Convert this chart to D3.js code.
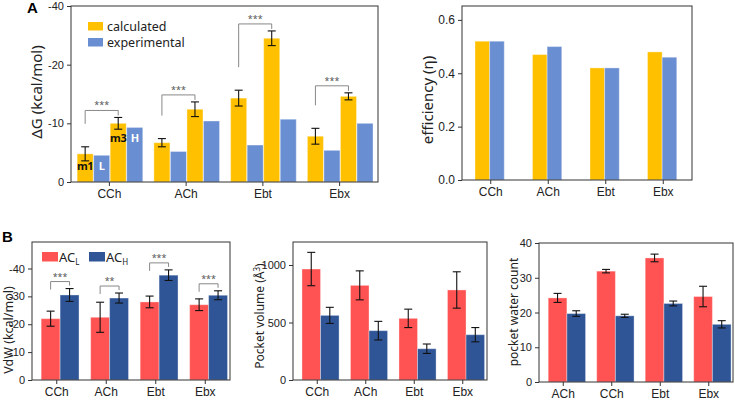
<!DOCTYPE html>
<meta charset="utf-8">
<style>
body { margin: 0; background: #fff; }
svg { font-family: "Noto Sans", "Open Sans", sans-serif; }
.frame { fill: none; stroke: #333; stroke-width: 1; }
.axis path { display: none; }
.axis line { stroke: #333; }
.axis text { fill: #222; }
.err { stroke: #111; stroke-width: 1.1; fill: none; }
.bracket { stroke: #888; stroke-width: 1; fill: none; }
.stars { fill: #555; font-size: 9px; text-anchor: middle; }
</style>
<svg width="735" height="400"></svg>
<script src="https://cdn.jsdelivr.net/npm/d3@7"></script>
<script>

// ---- panel A: binding free energy
var moleculesA = ["CCh", "ACh", "Ebt", "Ebx"];
var calcM1 = [4.8, 6.7, 14.3, 7.8];
var calcM1Err = [1.2, 0.7, 1.35, 1.35];
var expL = [4.55, 5.2, 6.3, 5.4];
var calcM3 = [10.0, 12.4, 24.5, 14.6];
var calcM3Err = [1.0, 1.25, 1.25, 0.6];
var expH = [9.3, 10.4, 10.7, 10.0];
var dgTicks = [0, 10, 20, 30];
var dgTickLabels = ["0", "-10", "-20", "-40"];

// ---- panel A: efficiency
var effCalc = [0.52, 0.47, 0.42, 0.48];
var effExp = [0.52, 0.50, 0.42, 0.46];
var effTicks = [0, 0.2, 0.4, 0.6];

// ---- panel B
var moleculesB = ["CCh", "ACh", "Ebt", "Ebx"];
var vdwL = [22.0, 22.5, 28.0, 27.0];
var vdwLErr = [2.7, 5.4, 2.1, 2.1];
var vdwH = [30.5, 29.4, 37.6, 30.4];
var vdwHErr = [2.3, 1.8, 1.9, 1.6];
var vdwStars = ["***", "**", "***", "***"];
var vdwTicks = [0, 10, 20, 30, 40];

var volL = [965, 823, 536, 783];
var volLErr = [145, 126, 80, 158];
var volH = [562, 429, 272, 394];
var volHErr = [70, 81, 41, 62];
var volTicks = [0, 500, 1000];

var waterMolecules = ["ACh", "CCh", "Ebt", "Ebx"];
var waterL = [24.2, 31.9, 35.7, 24.6];
var waterLErr = [1.3, 0.5, 1.1, 2.95];
var waterH = [19.7, 19.05, 22.6, 16.6];
var waterHErr = [0.8, 0.45, 0.7, 1.05];
var waterTicks = [0, 10, 20, 30, 40];

var colors = { calc: "#FFC000", exp: "#6A8ED2", L: "#FF5252", H: "#2F5597" };

var svg = d3.select("svg");

function panel(o) {
  var g = svg.append("g");
  var x = d3.scaleBand().domain(o.cats).range([o.x0, o.x1]);
  var bw = x.bandwidth();
  var inner = d3.scaleBand().domain(o.keys)
      .range([o.inner[0] * bw, o.inner[1] * bw])
      .paddingInner(o.innerPad || 0);
  var y = d3.scaleLinear().domain(o.domain).range([o.y1, o.y0]);

  var rows = [];
  o.cats.forEach(function(c, i) {
    o.keys.forEach(function(k, j) {
      var s = o.series[j];
      rows.push({ cat: c, key: k, v: s.values[i], err: s.err ? s.err[i] : null, color: s.color });
    });
  });

  g.selectAll("rect.bar").data(rows).enter().append("rect")
      .attr("class", "bar")
      .attr("x", function(d) { return x(d.cat) + inner(d.key); })
      .attr("width", inner.bandwidth())
      .attr("y", function(d) { return y(d.v); })
      .attr("height", function(d) { return y(0) - y(d.v); })
      .attr("fill", function(d) { return d.color; })
      .attr("stroke", "#fff")
      .attr("stroke-opacity", 0.35)
      .attr("stroke-width", 1);

  var errs = rows.filter(function(d) { return d.err != null; });
  var eg = g.selectAll("g.e").data(errs).enter().append("g").attr("class", "err");
  var cx = function(d) { return x(d.cat) + inner(d.key) + inner.bandwidth() / 2; };
  eg.append("line")
      .attr("x1", cx).attr("x2", cx)
      .attr("y1", function(d) { return y(d.v - d.err); })
      .attr("y2", function(d) { return y(d.v + d.err); });
  [1, -1].forEach(function(sg) {
    eg.append("line")
        .attr("x1", function(d) { return cx(d) - 4; })
        .attr("x2", function(d) { return cx(d) + 4; })
        .attr("y1", function(d) { return y(d.v + sg * d.err); })
        .attr("y2", function(d) { return y(d.v + sg * d.err); });
  });

  // axes
  g.append("g").attr("class", "axis")
      .attr("transform", "translate(" + o.x0 + ",0)")
      .call(d3.axisLeft(y).tickValues(o.ticks).tickFormat(o.fmt).tickSize(4).tickPadding(3))
      .selectAll("text").style("font-size", o.tickFont + "px");
  g.append("g").attr("class", "axis")
      .attr("transform", "translate(0," + o.y1 + ")")
      .call(d3.axisBottom(x).tickSize(4).tickPadding(3))
      .selectAll("text").style("font-size", "12px");

  g.append("rect").attr("class", "frame")
      .attr("x", o.x0).attr("y", o.y0)
      .attr("width", o.x1 - o.x0).attr("height", o.y1 - o.y0);

  if (o.label) {
    g.append("text")
        .attr("transform", "translate(" + o.labelX + "," + o.labelY + ") rotate(-90)")
        .attr("text-anchor", "middle")
        .style("font-size", o.labelFont + "px")
        .attr("fill", "#222")
        .text(o.label);
  }

  return { g: g, x: x, y: y, inner: inner };
}

// ---- A left
var pA = panel({
  cats: moleculesA, keys: ["m1", "L", "m3", "H"],
  series: [
    { values: calcM1, err: calcM1Err, color: colors.calc },
    { values: expL, color: colors.exp },
    { values: calcM3, err: calcM3Err, color: colors.calc },
    { values: expH, color: colors.exp }
  ],
  x0: 71, x1: 378, y0: 6, y1: 182, domain: [0, 30],
  inner: [0.08, 0.935], innerPad: 0.03,
  ticks: dgTicks, fmt: function(d, i) { return dgTickLabels[i]; }, tickFont: 11,
  label: "ΔG (kcal/mol)", labelX: 42, labelY: 92, labelFont: 15
});

// bracket helper
function bracket(p, cat, k1, k2, top, leftEnd, rightEnd, stars) {
  var xa = p.x(cat) + p.inner(k1) + p.inner.bandwidth() / 2;
  var xb = p.x(cat) + p.inner(k2) + p.inner.bandwidth() / 2;
  p.g.append("path").attr("class", "bracket")
      .attr("d", "M" + xa + "," + leftEnd + "V" + top + "H" + xb + "V" + rightEnd);
  p.g.append("text").attr("class", "stars")
      .attr("x", (xa + xb) / 2).attr("y", top - 2).text(stars);
}

moleculesA.forEach(function(c, i) {
  var top = pA.y(calcM3[i] + calcM3Err[i]) - 7;
  var left = pA.y(calcM1[i] + calcM1Err[i]) - 23;
  bracket(pA, c, "m1", "m3", top, left, top + 5, "***");
});

// bar labels in CCh group
var labA = [["m1", "#111", 0], ["L", "#fff", 1], ["m3", "#111", 2], ["H", "#fff", 3]];
labA.forEach(function(l) {
  var lowV = l[2] < 2 ? Math.min(calcM1[0], expL[0]) : Math.min(calcM3[0], expH[0]);
  pA.g.append("text")
      .attr("x", pA.x("CCh") + pA.inner(l[0]) + pA.inner.bandwidth() / 2)
      .attr("y", pA.y(lowV) + 15)
      .attr("text-anchor", "middle")
      .style("font-size", "11px").style("font-weight", "bold")
      .style("letter-spacing", "-0.3px")
      .attr("fill", l[1]).text(l[0]);
});

// legend A
var legA = [["calculated", colors.calc], ["experimental", colors.exp]];
legA.forEach(function(d, i) {
  pA.g.append("rect").attr("x", 88).attr("y", 22 + i * 16).attr("width", 15).attr("height", 8.5).attr("fill", d[1]);
  pA.g.append("text").attr("x", 107).attr("y", 30.5 + i * 16).style("font-size", "12.5px").attr("fill", "#222").text(d[0]);
});

svg.append("text").attr("x", 27).attr("y", 13).style("font-size", "15px").style("font-weight", "bold")
    .style("font-family", "Liberation Sans, Arial").text("A");

// ---- A right: efficiency
panel({
  cats: moleculesA, keys: ["calc", "exp"],
  series: [
    { values: effCalc, color: colors.calc },
    { values: effExp, color: colors.exp }
  ],
  x0: 462, x1: 692, y0: 6, y1: 180, domain: [0, 0.652],
  inner: [0.226, 0.735],
  ticks: effTicks, fmt: d3.format(".1f"), tickFont: 12,
  label: "efficiency (η)", labelX: 433, labelY: 100, labelFont: 15
});

// ---- B1: VdW
var pB1 = panel({
  cats: moleculesB, keys: ["L", "H"],
  series: [
    { values: vdwL, err: vdwLErr, color: colors.L },
    { values: vdwH, err: vdwHErr, color: colors.H }
  ],
  x0: 32, x1: 230, y0: 242, y1: 380, domain: [0, 49.5],
  inner: [0.185, 0.95],
  ticks: vdwTicks, fmt: function(d) { return d === 0 ? "0" : "-" + d; }, tickFont: 11,
  label: "VdW (kcal/mol)", labelX: 13, labelY: 330, labelFont: 12.5
});
moleculesB.forEach(function(c, i) {
  var top = pB1.y(vdwH[i] + vdwHErr[i]) - 7;
  bracket(pB1, c, "L", "H", top, top + 8, top + 4, vdwStars[i]);
});

// legend B
var legB = [["L", colors.L, 42], ["H", colors.H, 89]];
legB.forEach(function(d) {
  pB1.g.append("rect").attr("x", d[2]).attr("y", 252).attr("width", 16).attr("height", 9.5).attr("fill", d[1]);
  var t = pB1.g.append("text").attr("x", d[2] + 17).attr("y", 262).style("font-size", "13px").attr("fill", "#222");
  t.append("tspan").text("AC");
  t.append("tspan").attr("dy", 3).style("font-size", "8px").text(d[0]);
});

svg.append("text").attr("x", 2).attr("y", 242).style("font-size", "15px").style("font-weight", "bold")
    .style("font-family", "Liberation Sans, Arial").text("B");

// ---- B2: pocket volume
var pB2 = panel({
  cats: moleculesB, keys: ["L", "H"],
  series: [
    { values: volL, err: volLErr, color: colors.L },
    { values: volH, err: volHErr, color: colors.H }
  ],
  x0: 293, x1: 487, y0: 242, y1: 380, domain: [0, 1200],
  inner: [0.185, 0.95],
  ticks: volTicks, fmt: d3.format("d"), tickFont: 11
});
var volLabel = pB2.g.append("text")
    .attr("transform", "translate(264,316) rotate(-90)")
    .attr("text-anchor", "middle").style("font-size", "12px").attr("fill", "#222");
volLabel.append("tspan").text("Pocket volume (Å");
volLabel.append("tspan").attr("dy", -4).style("font-size", "8px").text("3");
volLabel.append("tspan").attr("dy", 4).text(")");

// ---- B3: pocket water count
panel({
  cats: waterMolecules, keys: ["L", "H"],
  series: [
    { values: waterL, err: waterLErr, color: colors.L },
    { values: waterH, err: waterHErr, color: colors.H }
  ],
  x0: 539, x1: 733, y0: 243, y1: 382, domain: [0, 40],
  inner: [0.19, 0.96],
  ticks: waterTicks, fmt: d3.format("d"), tickFont: 11,
  label: "pocket water count", labelX: 518, labelY: 312, labelFont: 12
});

</script>
